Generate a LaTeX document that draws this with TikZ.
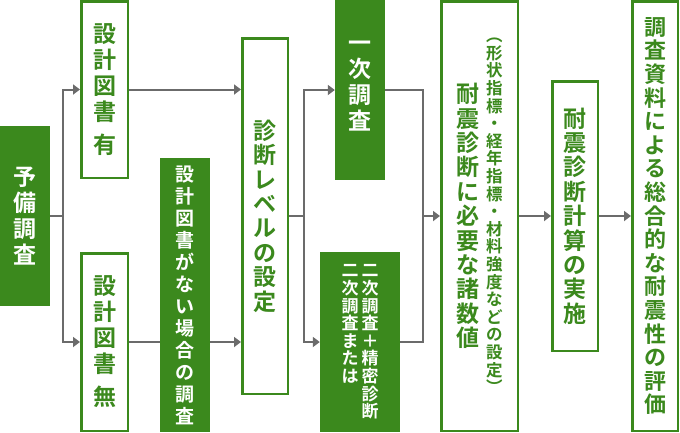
\documentclass[tikz,border=0pt]{standalone}
\usepackage{fontspec}
\setmainfont{Noto Sans CJK JP}[BoldFont=* Bold]
\usetikzlibrary{arrows.meta, positioning}

\definecolor{shindan}{HTML}{3B891D}
\definecolor{flowgray}{HTML}{6B6B6B}

% vertical (tate-gaki) stacking of characters
\makeatletter
\newcommand{\tategap}{}
\def\tate@gap{\tategap}
\newcommand{\tate}[1]{\vtop{\lineskiplimit=-\maxdimen
    \@tfor\tate@c:=#1\do{\ifx\tate@c\tate@gap\vskip7pt\else\hbox to 1em{\hss\tate@c\hss}\fi}}}
\makeatother

\begin{document}
\begin{tikzpicture}[x=1pt, y=-1pt,
        filled box/.style={fill=shindan, text=white, inner sep=0pt,
                           font=\fontsize{23}{26}\selectfont\bfseries},
        open box/.style={draw=shindan, line width=2.5pt, fill=white, text=shindan,
                         inner sep=0pt, font=\fontsize{23}{24.4}\selectfont\bfseries},
        flow/.style={draw=flowgray, line width=2pt},
        flow arrow/.style={flow, -{Triangle[length=7pt, width=10pt]}}]
    \useasboundingbox (0,0) rectangle (680,432);

    % survey boxes
    \node[filled box, minimum width=50pt, minimum height=180pt] (prelim) at (25,216) {\tate{予備調査}};
    \node[open box, font=\fontsize{23}{26}\selectfont\bfseries, minimum width=46.5pt,
          minimum height=176.5pt] (drawA) at (104.5,89.5) {\tate{設計図書{\tategap}有}};
    \node[open box, font=\fontsize{23}{26}\selectfont\bfseries, minimum width=46.5pt,
          minimum height=177.5pt] (drawB) at (104.5,342) {\tate{設計図書{\tategap}無}};
    \node[filled box, font=\fontsize{19}{22}\selectfont\bfseries, minimum width=50pt,
          minimum height=274pt] (nodraw) at (185,295) {\tate{設計図書がない場合の調査}};

    % diagnosis level
    \node[open box, minimum width=45.5pt, minimum height=355.5pt] (level) at (265,216) {\tate{診断レベルの設定}};
    \node[filled box, minimum width=50pt, minimum height=180pt] (first) at (360,90)
          {\vbox{\tate{一次調査}\vskip8pt}};
    \node[filled box, font=\fontsize{17}{17.6}\selectfont\bfseries, minimum width=80pt,
          minimum height=180pt] (second) at (360,342)
          {\tate{二次調査または}\hspace{3pt}\tate{二次調査＋精密診断}};

    % values, calculation, evaluation
    \node[open box, minimum width=76.5pt, minimum height=429.5pt] (values) at (479.5,216)
          {$\vcenter{\tate{耐震診断に必要な諸数値}}\hspace{6.5pt}%
            \vcenter{\fontsize{16.5}{17.6}\selectfont\tate{︵形状指標・経年指標・材料強度などの設定︶}}$};
    \node[open box, minimum width=45.5pt, minimum height=269.5pt] (calc) at (575,216) {\tate{耐震診断計算の実施}};
    \node[open box, font=\fontsize{22}{23.6}\selectfont\bfseries, minimum width=45.5pt,
          minimum height=429.5pt] (eval) at (655,216) {\tate{調査資料による総合的な耐震性の評価}};

    % connectors
    \draw[flow] (prelim.east) -- ++(13,0) coordinate (fork1);
    \draw[flow arrow] (fork1) |- (drawA.west);
    \draw[flow arrow] (fork1) |- (drawB.west);
    \draw[flow arrow] (drawA.east) -- (drawA.east -| level.west);
    \draw[flow] (drawB.east) -- (nodraw.west |- drawB.east);
    \draw[flow arrow] (nodraw.east |- drawB.east) -- (level.west |- drawB.east);

    \draw[flow] (level.east) -- ++(15,0) coordinate (fork2);
    \draw[flow arrow] (fork2) |- (first.west);
    \draw[flow arrow] (fork2) |- (second.west);
    \coordinate (merge) at (423,216);
    \draw[flow] (first.east) -| (merge) |- (second.east);
    \draw[flow arrow] (merge) -- (values.west);
    \draw[flow arrow] (values.east) -- (calc.west);
    \draw[flow arrow] (calc.east) -- (eval.west);
\end{tikzpicture}
\end{document}
